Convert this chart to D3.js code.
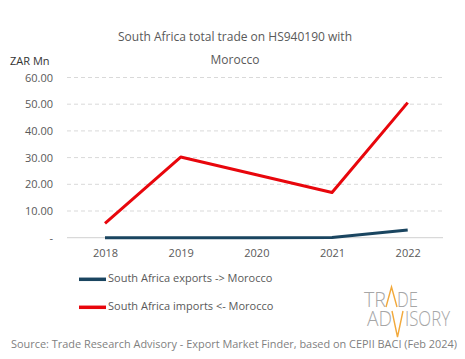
<!DOCTYPE html>
<html><head><meta charset="utf-8">
<script src="https://cdn.jsdelivr.net/npm/d3@7"></script>
<style>body{margin:0;background:#fff}svg{display:block}text{font-family:"Open Sans",sans-serif}</style>
</head><body><svg id="c" width="465" height="359"></svg>
<script>
const years = ["2018","2019","2020","2021","2022"];
const exportsZA = [0.02, 0.01, 0.01, 0.1, 2.9];
const importsZA = [5.4, 30.2, 23.6, 16.9, 50.6];
const yTicks = [0, 10, 20, 30, 40, 50, 60];
const seriesNames = ["South Africa exports -> Morocco", "South Africa imports <- Morocco"];
const seriesColors = ["#1a4560", "#e8060c"];

const svg = d3.select("#c");
const x = d3.scalePoint().domain(years).range([105, 407.7]);
const y = d3.scaleLinear().domain([0, 60]).range([237.7, 77.5]);
const gx0 = 67, gx1 = 443;

// title
svg.append("text").attr("x", 235).attr("y", 41).attr("text-anchor", "middle")
  .attr("font-size", 12).attr("fill", "#595959").text("South Africa total trade on HS940190 with");
svg.append("text").attr("x", 235).attr("y", 64).attr("text-anchor", "middle")
  .attr("font-size", 12).attr("fill", "#595959").text("Morocco");
svg.append("text").attr("x", 10).attr("y", 65).attr("font-size", 11).attr("fill", "#333")
  .text("ZAR Mn");

// grid
const grid = svg.append("g");
yTicks.forEach(t => {
  grid.append("line").attr("x1", gx0).attr("x2", gx1).attr("y1", y(t)).attr("y2", y(t))
    .attr("stroke", t === 0 ? "#d0d0d0" : "#d9d9d9").attr("stroke-width", 1)
    .attr("stroke-dasharray", t === 0 ? null : "4,3");
});

// y axis
const yAxis = d3.axisLeft(y).tickValues(yTicks).tickSize(0)
  .tickFormat(d => d === 0 ? "-" : d3.format(".2f")(d));
const yg = svg.append("g").attr("transform", "translate(53,0)").call(yAxis);
yg.select(".domain").remove();
yg.selectAll("text").attr("font-size", 11).attr("fill", "#595959")
  .attr("font-family", '"Open Sans",sans-serif').attr("x", 0);

// x axis
const xAxis = d3.axisBottom(x).tickSize(0);
const xg = svg.append("g").attr("transform", "translate(0,246)").call(xAxis);
xg.select(".domain").remove();
xg.selectAll("text").attr("font-size", 11).attr("fill", "#595959")
  .attr("font-family", '"Open Sans",sans-serif');

// lines
const line = d3.line().x((d, i) => x(years[i])).y(d => y(d));
[exportsZA, importsZA].forEach((s, k) => {
  svg.append("path").datum(s).attr("d", line).attr("fill", "none")
    .attr("stroke", seriesColors[k]).attr("stroke-width", 3).attr("stroke-linejoin", "round");
});

// legend
seriesNames.forEach((n, k) => {
  const ly = 279.3 + k * 28;
  svg.append("line").attr("x1", 79).attr("x2", 106).attr("y1", ly).attr("y2", ly)
    .attr("stroke", seriesColors[k]).attr("stroke-width", 3.5);
  svg.append("text").attr("x", 108).attr("y", ly + 2.5).attr("font-size", 11)
    .attr("fill", "#595959").text(n);
});

// logo
const gray = "#a6a6a6", orange = "#f2a93b";
const logo = svg.append("text").attr("font-size", 21)
  .attr("font-family", "Roboto,sans-serif").attr("font-weight", 300).attr("fill", gray)
  .attr("lengthAdjust", "spacingAndGlyphs");
const span = (txt, xx, yy, w) => logo.append("tspan").attr("x", xx).attr("y", yy)
  .attr("textLength", w).attr("lengthAdjust", "spacingAndGlyphs").text(txt);
span("TR", 364, 307, 22);
span("DE", 397, 307, 21);
span("AD", 367, 326, 25);
span("ISORY", 405, 326, 45);
svg.append("path").attr("d", "M386,307 L391.5,287 L397,307").attr("fill", "none").attr("stroke", orange).attr("stroke-width", 1.4);
svg.append("path").attr("d", "M392,311 L397.5,337 L403,311").attr("fill", "none").attr("stroke", orange).attr("stroke-width", 1.4);

// source
svg.append("text").attr("x", 11).attr("y", 348).attr("font-size", 11).attr("fill", "#7f7f7f")
  .attr("textLength", 446).attr("lengthAdjust", "spacingAndGlyphs")
  .text("Source: Trade Research Advisory - Export Market Finder, based on CEPII BACI (Feb 2024)");
</script></body></html>
